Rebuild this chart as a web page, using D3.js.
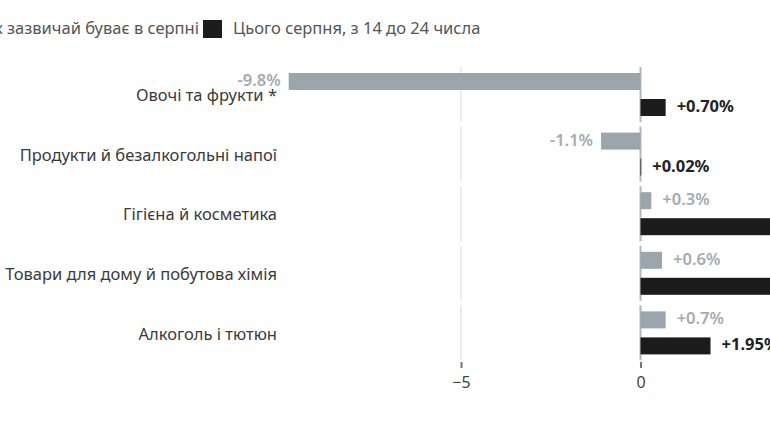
<!DOCTYPE html>
<html>
<head>
<meta charset="utf-8">
<script src="https://cdn.jsdelivr.net/npm/d3@7"></script>
<style>
  body { margin: 0; overflow: hidden; background: #fff; }
  svg { font-family: "Noto Sans", "Open Sans", sans-serif; }
</style>
</head>
<body>
<svg id="chart"></svg>
<script>
const categories = [
  'Овочі та фрукти *',
  'Продукти й безалкогольні напої',
  'Гігієна й косметика',
  'Товари для дому й побутова хімія',
  'Алкоголь і тютюн'
];
const seriesNames = ['Як зазвичай буває в серпні', 'Цього серпня, з 14 до 24 числа'];
const usualAugust = [-9.8, -1.1, 0.3, 0.6, 0.7];
const thisAugust = [0.70, 0.02, 4.10, 4.45, 1.95];
const tickValues = [-10, -5, 0, 5];

const w = 900;
const h = 431;
const colors = ['#9ba5ad', '#1c1c1c'];
const labelColors = ['#a3abb1', '#222'];

const svg = d3.select('#chart')
  .attr('width', w)
  .attr('height', h);

const x = d3.scaleLinear()
  .domain([-9.8, 5.5])
  .range([288.7, 640.5 + 5.5 * 35.9]);

const y = d3.scaleBand()
  .domain(categories)
  .range([65, 363]);

const sub = d3.scaleBand()
  .domain([0, 1])
  .range([8, 51])
  .paddingInner(0.346);

// grid segments per row
const rows = svg.append('g').selectAll('g')
  .data(categories)
  .join('g')
  .attr('transform', d => `translate(0,${y(d)})`);

const visibleTicks = tickValues.filter(t => t >= x.domain()[0]);

rows.selectAll('line.grid')
  .data(visibleTicks)
  .join('line')
  .attr('class', 'grid')
  .attr('x1', d => x(d))
  .attr('x2', d => x(d))
  .attr('y1', 2)
  .attr('y2', y.bandwidth() - 2.5)
  .attr('stroke', d => d === 0 ? '#b3b8bc' : '#ececec')
  .attr('stroke-width', 2);

rows.append('text')
  .attr('x', 277)
  .attr('y', y.bandwidth() / 2 + 2)
  .attr('text-anchor', 'end')
  .attr('dominant-baseline', 'middle')
  .attr('fill', '#3a3a3a')
  .style('font-size', '16.5px')
  .text(d => d);

const fmt = [v => (v > 0 ? '+' : '') + v.toFixed(1) + '%',
             v => (v > 0 ? '+' : '') + v.toFixed(2) + '%'];

[usualAugust, thisAugust].forEach((vals, s) => {
  rows.append('rect')
    .attr('x', (d, i) => Math.min(x(0), x(vals[i])))
    .attr('y', sub(s))
    .attr('width', (d, i) => Math.abs(x(vals[i]) - x(0)))
    .attr('height', sub.bandwidth())
    .attr('fill', colors[s]);

  rows.append('text')
    .attr('x', (d, i) => vals[i] < 0 ? x(vals[i]) - 8 : x(vals[i]) + 11)
    .attr('y', sub(s) + sub.bandwidth() / 2)
    .attr('text-anchor', (d, i) => vals[i] < 0 ? 'end' : 'start')
    .attr('dominant-baseline', 'middle')
    .attr('fill', labelColors[s])
    .style('font-size', '16.5px')
    .style('font-weight', s === 0 ? '600' : 'bold')
    .text((d, i) => fmt[s](vals[i]));
});

// axis
const xAxis = d3.axisBottom(x)
  .tickValues(visibleTicks)
  .tickSize(6)
  .tickFormat(d => d3.format('')(d));

const ax = svg.append('g')
  .attr('transform', 'translate(0,362)')
  .call(xAxis);
ax.select('.domain').remove();
ax.selectAll('.tick line').attr('stroke', '#777').attr('stroke-width', 2);
ax.selectAll('.tick text')
  .attr('fill', '#444')
  .attr('dy', '1.05em')
  .style('font-size', '16px')
  .style('font-family', '"Noto Sans", sans-serif');

// legend
const legend = svg.append('g');
const blackX = 203;
legend.append('rect')
  .attr('x', blackX).attr('y', 20)
  .attr('width', 19).attr('height', 18)
  .attr('fill', colors[1]);
legend.append('text')
  .attr('x', blackX + 30).attr('y', 29.5)
  .attr('dominant-baseline', 'middle')
  .attr('fill', '#555')
  .style('font-size', '16.5px')
  .text(seriesNames[1]);
const firstText = legend.append('text')
  .attr('x', 199).attr('y', 29.5)
  .attr('text-anchor', 'end')
  .attr('dominant-baseline', 'middle')
  .attr('fill', '#555')
  .style('font-size', '16.5px')
  .text(seriesNames[0]);
const tw = firstText.node().getComputedTextLength();
legend.append('rect')
  .attr('x', 199 - tw - 30).attr('y', 20)
  .attr('width', 19).attr('height', 18)
  .attr('fill', colors[0]);
</script>
</body>
</html>
